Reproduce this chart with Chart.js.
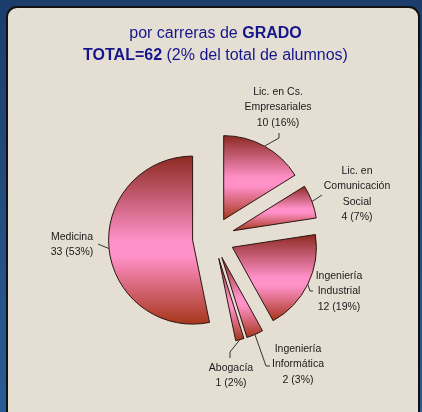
<!DOCTYPE html>
<html lang="es">
<head>
  <meta charset="UTF-8" />
  <title>Alumnos por carreras de grado</title>
  <script src="https://cdn.jsdelivr.net/npm/chart.js"></script>
  <style>
    html, body { margin: 0; padding: 0; width: 422px; height: 412px; overflow: hidden; }
    body { background: linear-gradient(to bottom, #1c3d6b, #2a5c95); }
    #panel { position: absolute; left: 6px; top: 6px; width: 410px; height: 420px; background: #e5dfd3; border: 2px solid #111; border-radius: 11px; }
    #wrap { position: absolute; left: 0; top: 0; width: 422px; height: 412px; }
  </style>
</head>
<body>
  <div id="panel"></div>
  <div id="wrap"><canvas id="pieChart" width="422" height="412"></canvas></div>

  <script>
    // data
    const categories = [
      ["Lic. en Cs.", "Empresariales"],
      ["Lic. en", "Comunicación", "Social"],
      ["Ingeniería", "Industrial"],
      ["Ingeniería", "Informática"],
      ["Abogacía"],
      ["Medicina"]
    ];
    const values = [10, 4, 12, 2, 1, 33];
    const percents = ["16%", "7%", "19%", "3%", "2%", "53%"];

    const titleLine1 = ["por carreras de ", "GRADO"];
    const titleLine2 = ["TOTAL=62", " (2% del total de alumnos)"];

    // label placement (text centre, first line) and leader elbows
    const labelLayout = [
      { x: 278, y: 92,  bend: [[279, 138], [279, 133]] },
      { x: 357, y: 171, bend: [[322, 195]] },
      { x: 339, y: 276, bend: [[310, 291], [313, 291]] },
      { x: 298, y: 349, bend: [[266, 366], [270, 366]] },
      { x: 231, y: 368, bend: [[230, 352], [230, 358]] },
      { x: 72,  y: 237, bend: [[98, 244]] }
    ];

    const EXPLODE = 21;
    const FONT = "Arial, 'Liberation Sans', sans-serif";

    // pull every slice out from the centre, shade it, label it
    const explode = {
      id: "explode",
      afterDatasetsUpdate(chart) {
        chart.getDatasetMeta(0).data.forEach(arc => {
          const mid = (arc.startAngle + arc.endAngle) / 2;
          arc.x += Math.cos(mid) * EXPLODE;
          arc.y += Math.sin(mid) * EXPLODE;
        });
      },
      beforeDatasetsDraw(chart) {
        const ctx = chart.ctx;
        chart.getDatasetMeta(0).data.forEach(arc => {
          const r = arc.outerRadius;
          const ys = [arc.y, arc.y + Math.sin(arc.startAngle) * r, arc.y + Math.sin(arc.endAngle) * r];
          [Math.PI / 2, Math.PI * 1.5].forEach(k => {
            if (k > arc.startAngle && k < arc.endAngle) ys.push(arc.y + Math.sin(k) * r);
          });
          const top = Math.min(...ys), bottom = Math.max(...ys);
          const g = ctx.createLinearGradient(0, top, 0, bottom);
          g.addColorStop(0, "#8c2a22");
          g.addColorStop(0.5, "#ff90c8");
          g.addColorStop(0.6, "#ff90c8");
          g.addColorStop(1, "#a6361a");
          arc.options.backgroundColor = g;
        });
      },
      afterDatasetsDraw(chart) {
        const ctx = chart.ctx;
        ctx.save();
        chart.getDatasetMeta(0).data.forEach((arc, i) => {
          const mid = (arc.startAngle + arc.endAngle) / 2;
          const px = arc.x + Math.cos(mid) * arc.outerRadius;
          const py = arc.y + Math.sin(mid) * arc.outerRadius;
          const lay = labelLayout[i];
          ctx.strokeStyle = "#333";
          ctx.lineWidth = 1;
          ctx.beginPath();
          ctx.moveTo(px, py);
          lay.bend.forEach(p => ctx.lineTo(p[0], p[1]));
          ctx.stroke();

          const lines = categories[i].concat([values[i] + " (" + percents[i] + ")"]);
          ctx.fillStyle = "#1a1a1a";
          ctx.font = "10.5px " + FONT;
          ctx.textAlign = "center";
          ctx.textBaseline = "middle";
          lines.forEach((t, k) => ctx.fillText(t, lay.x, lay.y + k * 15.5));
        });

        // title, mixed bold / normal
        ctx.fillStyle = "#16168c";
        ctx.textBaseline = "alphabetic";
        ctx.textAlign = "left";
        [[titleLine1, 37.5, [false, true]], [titleLine2, 59.5, [true, false]]].forEach(([parts, y, bold]) => {
          const fonts = bold.map(b => (b ? "bold " : "") + "16px " + FONT);
          let w = 0;
          parts.forEach((p, k) => { ctx.font = fonts[k]; w += ctx.measureText(p).width; });
          let x = 215.5 - w / 2;
          parts.forEach((p, k) => { ctx.font = fonts[k]; ctx.fillText(p, x, y); x += ctx.measureText(p).width; });
        });
        ctx.restore();
      }
    };

    new Chart(document.getElementById("pieChart"), {
      type: "pie",
      data: {
        labels: categories.map(c => c.join(" ")),
        datasets: [{
          data: values,
          backgroundColor: () => "#ff90c8",
          borderColor: "#2a1410",
          borderWidth: 1
        }]
      },
      options: {
        responsive: false,
        animation: false,
        events: [],
        radius: 84,
        layout: { padding: { left: 60, right: 55, top: 100, bottom: 36 } },
        plugins: { legend: { display: false }, tooltip: { enabled: false } }
      },
      plugins: [explode]
    });
  </script>
</body>
</html>
